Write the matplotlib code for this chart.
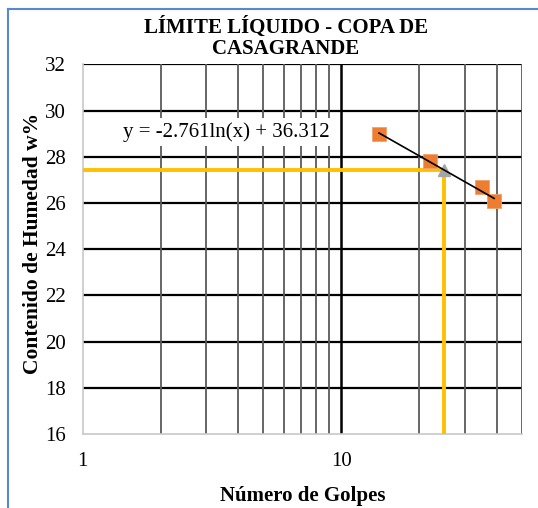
import numpy as np
import matplotlib
matplotlib.use("Agg")
import matplotlib.pyplot as plt
from matplotlib.ticker import FixedLocator, NullFormatter, FixedFormatter

plt.rcParams['font.family'] = ['Liberation Serif', 'DejaVu Serif']

# data
golpes = [14, 22, 35, 39]
humedad = [29.0, 27.8, 26.7, 26.1]
coef_a = -2.761
coef_b = 36.312
n_ref = 25
y_ticks = [16, 18, 20, 22, 24, 26, 28, 30, 32]

ll = coef_a * np.log(n_ref) + coef_b

fig = plt.figure(figsize=(5.38, 5.08), dpi=100)
ax = fig.add_axes([0.1537, 0.1457, 0.8166, 0.7277])

# outer chart border (only left and top are visible)
fig.add_artist(plt.Line2D([8 / 538, 8 / 538], [0, 1 - 9 / 508], color='#5B86D0', lw=1.5,
                          transform=fig.transFigure))
fig.add_artist(plt.Line2D([8 / 538, 1], [1 - 9 / 508, 1 - 9 / 508], color='#5B86D0', lw=1.5,
                          transform=fig.transFigure))

ax.set_xscale('log')
ax.set_xlim(1, 50)
ax.set_ylim(16, 32)

# grid
for y in y_ticks[1:]:
    ax.axhline(y, color='black', lw=1.6, zorder=1)
minor_x = [2, 3, 4, 5, 6, 7, 8, 9, 20, 30, 40, 50]
for x in minor_x:
    ax.axvline(x, color='#5a5a5a', lw=1.3, zorder=1)
ax.axvline(10, color='black', lw=1.8, zorder=1)

for s in ['left', 'bottom']:
    ax.spines[s].set_color('#c8c8c8')
    ax.spines[s].set_linewidth(1.2)
for s in ['top', 'right']:
    ax.spines[s].set_visible(False)

ax.xaxis.set_major_locator(FixedLocator([1, 10]))
ax.xaxis.set_major_formatter(FixedFormatter(['1', '10']))
ax.xaxis.set_minor_locator(FixedLocator([]))
ax.xaxis.set_minor_formatter(NullFormatter())
ax.set_yticks(y_ticks)
ax.tick_params(axis='both', length=0, labelsize=15, colors='black')
ax.tick_params(axis='x', pad=13)
ax.tick_params(axis='y', pad=12)

# liquid limit lines
ax.plot([1, n_ref], [ll, ll], color='#FFC000', lw=2.8, zorder=3)
ax.plot([n_ref, n_ref], [16, ll], color='#FFC000', lw=2.8, zorder=3)

# trendline
xs = np.linspace(min(golpes), max(golpes), 50)
ax.plot(xs, coef_a * np.log(xs) + coef_b, color='black', lw=1.2, zorder=5)

ax.plot(golpes, humedad, 's', color='#ED7D31', markeredgecolor='#F4A06A', markeredgewidth=0.6,
        markersize=10, zorder=4)
ax.plot([n_ref], [ll], '^', color='#A5A5A5', markersize=8, zorder=4)

ax.text(3.6, 29.08, 'y = -2.761ln(x) + 36.312', fontsize=15, ha='center', va='center',
        bbox=dict(facecolor='white', edgecolor='none', pad=3), zorder=6)

fig.text(286 / 538, 1 - 38 / 508, 'LÍMITE LÍQUIDO - COPA DE\nCASAGRANDE', ha='center', va='center',
         fontsize=15, fontweight='bold', linespacing=1.12)
ax.set_xlabel('Número de Golpes', fontsize=15, fontweight='bold', labelpad=11)
fig.text(33 / 538, 1 - 243 / 508, 'Contenido de Humedad w%', rotation=90, ha='center', va='center',
         fontsize=15.5, fontweight='bold')

fig.savefig('out.png', dpi=100)
